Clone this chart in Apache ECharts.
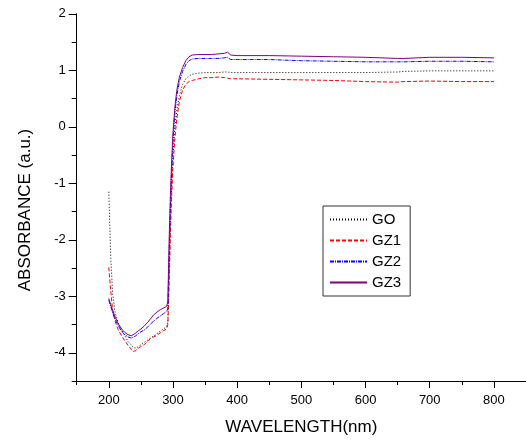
<!DOCTYPE html>
<html>
<head>
<meta charset="utf-8">
<script src="https://cdn.jsdelivr.net/npm/echarts@6/dist/echarts.min.js"></script>
<style>html,body{margin:0;padding:0;background:#fff}#c{width:526px;height:441px}</style>
</head>
<body>
<div id="c"></div>
<script>
var wavelength = [200,203,206,210,215,220,225,230,235,238,242,246,250,255,260,265,270,275,280,285,290,292,294,296,298,300,303,306,310,315,320,325,330,340,350,360,370,380,385,390,400,450,500,550,600,650,660,700,750,800];
var GO  = [-1.15,-2.3,-2.95,-3.30,-3.48,-3.60,-3.70,-3.80,-3.86,-3.90,-3.92,-3.89,-3.86,-3.82,-3.78,-3.74,-3.70,-3.66,-3.62,-3.58,-3.54,-3.45,-2.6,-1.7,-1.0,-0.5,0.0,0.3,0.55,0.75,0.85,0.90,0.93,0.95,0.96,0.96,0.96,0.97,0.97,0.96,0.96,0.96,0.96,0.96,0.96,0.97,0.98,0.99,0.99,0.99];
var GZ1 = [-2.49,-2.9,-3.25,-3.45,-3.60,-3.70,-3.79,-3.87,-3.94,-3.98,-3.96,-3.92,-3.89,-3.86,-3.80,-3.75,-3.72,-3.69,-3.65,-3.61,-3.58,-3.50,-2.8,-1.9,-1.2,-0.7,-0.2,0.15,0.45,0.65,0.75,0.80,0.82,0.85,0.87,0.87,0.88,0.87,0.86,0.85,0.85,0.84,0.83,0.82,0.80,0.79,0.80,0.81,0.80,0.80];
var GZ2 = [-3.07,-3.18,-3.29,-3.41,-3.53,-3.62,-3.68,-3.72,-3.74,-3.74,-3.70,-3.66,-3.63,-3.60,-3.55,-3.49,-3.44,-3.39,-3.35,-3.31,-3.27,-3.22,-2.3,-1.4,-0.75,-0.25,0.25,0.55,0.80,0.98,1.10,1.17,1.20,1.21,1.21,1.21,1.21,1.22,1.23,1.19,1.19,1.19,1.17,1.16,1.15,1.15,1.15,1.16,1.16,1.15];
var GZ3 = [-3.04,-3.15,-3.25,-3.37,-3.49,-3.58,-3.64,-3.68,-3.70,-3.69,-3.65,-3.61,-3.58,-3.53,-3.47,-3.40,-3.33,-3.28,-3.24,-3.21,-3.18,-3.10,-2.0,-1.2,-0.6,-0.1,0.35,0.65,0.88,1.05,1.17,1.24,1.27,1.28,1.28,1.28,1.29,1.30,1.32,1.27,1.26,1.26,1.25,1.24,1.23,1.21,1.21,1.23,1.23,1.22];
var xTicks = [200,300,400,500,600,700,800];
var yTicks = [-4,-3,-2,-1,0,1,2];

function pairs(ys){ return wavelength.map(function(x,i){ return [x, ys[i]]; }); }
var FONT = "'Liberation Sans', Arial, sans-serif";
var chart = echarts.init(document.getElementById('c'), null, {renderer:'canvas'});
function mk(name, ys, color, type){
  return {name:name, type:'line', data:pairs(ys), symbol:'none', showSymbol:false, animation:false,
    xAxisIndex:0, yAxisIndex:0,
    lineStyle:{color:color, width:1, type:type}, itemStyle:{color:color}};
}
chart.setOption({
  animation:false,
  backgroundColor:'#fff',
  grid:{left:76.7, right:-7.1, top:13.8, bottom:56, containLabel:false},
  xAxis:[{
    type:'value', min:150, max:850, position:'bottom',
    name:'WAVELENGTH(nm)', nameLocation:'middle', nameGap:38,
    nameTextStyle:{fontFamily:FONT, fontSize:17, color:'#000'},
    axisLine:{show:true, onZero:false, lineStyle:{color:'#000', width:1}},
    axisTick:{show:true, inside:false, length:7, lineStyle:{color:'#000'}, customValues:xTicks},
    axisLabel:{show:true, margin:13, fontFamily:FONT, fontSize:13, color:'#000', customValues:xTicks},
    splitLine:{show:false}
  },{
    type:'value', min:150, max:850, interval:50, position:'bottom', offset:0,
    axisLine:{show:false, onZero:false},
    axisTick:{show:true, inside:false, length:4, lineStyle:{color:'#000'}},
    axisLabel:{show:false}, splitLine:{show:false}
  }],
  yAxis:[{
    type:'value', min:-4.5, max:2, position:'left',
    axisLine:{show:true, onZero:false, lineStyle:{color:'#000', width:1}},
    axisTick:{show:true, inside:false, length:8, lineStyle:{color:'#000'}, customValues:yTicks},
    axisLabel:{show:true, margin:11, fontFamily:FONT, fontSize:13, color:'#000', customValues:yTicks},
    splitLine:{show:false}
  },{
    type:'value', min:-4.5, max:2, interval:0.5, position:'left', offset:0,
    axisLine:{show:false, onZero:false},
    axisTick:{show:true, inside:false, length:5, lineStyle:{color:'#000'}},
    axisLabel:{show:false}, splitLine:{show:false}
  }],
  legend:{
    orient:'vertical', left:323, top:206,
    itemWidth:37, itemHeight:14, itemGap:6,
    padding:[6,9,6,6],
    borderColor:'#333', borderWidth:1,
    itemStyle:{opacity:0},
    textStyle:{fontFamily:FONT, fontSize:15, color:'#000'},
    data:['GO','GZ1','GZ2','GZ3']
  },
  graphic:[{
    type:'text', x:25, y:210, rotation:Math.PI/2,
    style:{text:'ABSORBANCE (a.u.)', fontFamily:FONT, fontSize:17, fill:'#000', align:'center', verticalAlign:'middle'}
  }],
  series:[
    mk('GO', GO, '#000000', [1,2]),
    mk('GZ1', GZ1, '#ff0000', [4,2]),
    mk('GZ2', GZ2, '#0000ff', [4,1,1,1]),
    mk('GZ3', GZ3, '#800080', 'solid')
  ]
});
</script>
</body>
</html>
